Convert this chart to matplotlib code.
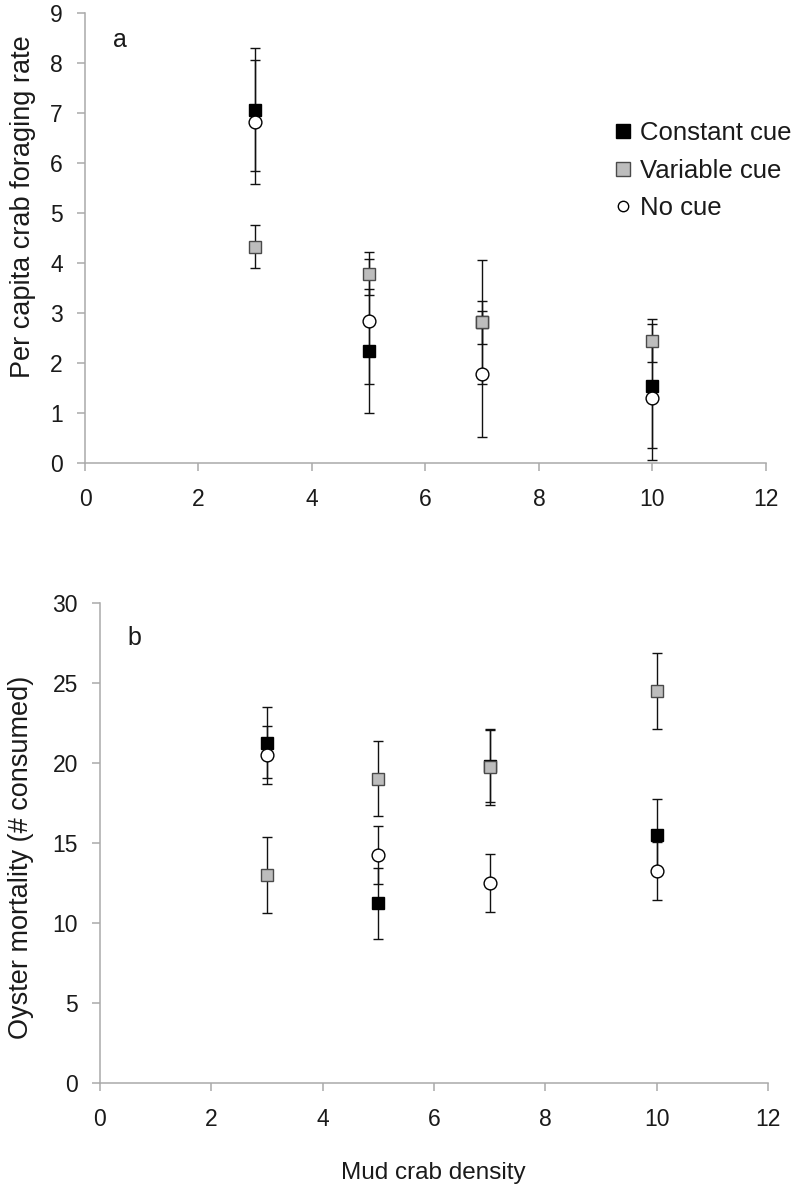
import matplotlib
matplotlib.use("Agg")
import matplotlib.pyplot as plt
from matplotlib.lines import Line2D

plt.rcParams['font.family'] = ['Liberation Sans', 'DejaVu Sans']

# mud crab density treatments
density = [3, 5, 7, 10]

# panel a: per capita foraging rate
rate_constant = [7.07, 2.23, 2.81, 1.54]
rate_constant_se = [1.24, 1.24, 1.24, 1.24]
rate_variable = [4.32, 3.78, 2.81, 2.44]
rate_variable_se = [0.43, 0.43, 0.43, 0.43]
rate_nocue = [6.82, 2.83, 1.77, 1.30]
rate_nocue_se = [1.25, 1.25, 1.26, 1.24]

# panel b: oyster mortality (# consumed)
mort_constant = [21.25, 11.21, 19.8, 15.48]
mort_constant_se = [2.23, 2.23, 2.23, 2.25]
mort_variable = [12.98, 19.0, 19.73, 24.5]
mort_variable_se = [2.36, 2.36, 2.36, 2.37]
mort_nocue = [20.5, 14.23, 12.48, 13.23]
mort_nocue_se = [1.8, 1.83, 1.82, 1.83]

labels = ["Constant cue", "Variable cue", "No cue"]
styles = [
    dict(marker='s', mfc='black', mec='black'),
    dict(marker='s', mfc='#bdbdbd', mec='#4a4a4a'),
    dict(marker='o', mfc='white', mec='black'),
]

SPINE = '#aaaaaa'
TXT = '#1a1a1a'


def draw_panel(ax, series, yticks, ylabel, letter, letter_y):
    # error bars first so every marker sits above every bar
    for vals, se in series:
        ax.errorbar(density, vals, yerr=se, fmt='none', ecolor='#111111',
                    elinewidth=1.0, capsize=3.3, capthick=1.0, zorder=2)
    for i, (vals, se) in enumerate(series):
        ax.plot(density, vals, linestyle='none', markersize=9.2,
                markeredgewidth=1.0, zorder=3 + i, **styles[i])

    ax.set_xlim(0, 12)
    ax.set_ylim(yticks[0], yticks[-1])
    ax.set_xticks(range(0, 13, 2))
    ax.set_yticks(yticks)
    for s in ['top', 'right']:
        ax.spines[s].set_visible(False)
    for s in ['left', 'bottom']:
        ax.spines[s].set_color(SPINE)
        ax.spines[s].set_linewidth(1.1)
    ax.tick_params(axis='both', colors=SPINE, labelcolor=TXT, length=6,
                   width=1.1, labelsize=16.5)
    ax.tick_params(axis='x', pad=12)
    ax.tick_params(axis='y', pad=10)
    ax.set_ylabel(ylabel, fontsize=19.5, color=TXT, va='center')
    ax.text(0.051, letter_y, letter, transform=ax.transAxes, fontsize=18,
            color=TXT, ha='center', va='center')


fig = plt.figure(figsize=(8, 11.94), dpi=100)
ax1 = fig.add_axes([85 / 800, 1 - 463 / 1194, 681 / 800, 450 / 1194])
ax2 = fig.add_axes([100 / 800, 1 - 1082.7 / 1194, 668 / 800, 480 / 1194])

draw_panel(ax1, [(rate_constant, rate_constant_se),
                 (rate_variable, rate_variable_se),
                 (rate_nocue, rate_nocue_se)],
           list(range(0, 10)), "Per capita crab foraging rate", "a", 0.94)
draw_panel(ax2, [(mort_constant, mort_constant_se),
                 (mort_variable, mort_variable_se),
                 (mort_nocue, mort_nocue_se)],
           list(range(0, 31, 5)), "Oyster mortality (# consumed)", "b", 0.926)

ax1.yaxis.set_label_coords((23 - 85) / 681, (463 - 207) / 450)
ax2.yaxis.set_label_coords((21 - 100) / 668, (1082.7 - 857) / 480)
ax2.set_xlabel("Mud crab density", fontsize=17.5, color=TXT, va='center')
ax2.xaxis.set_label_coords((433 - 100) / 668, (1082.7 - 1173) / 480)

handles = [
    Line2D([], [], linestyle='none', marker='s', markersize=10, mfc='black', mec='black'),
    Line2D([], [], linestyle='none', marker='s', markersize=10, mfc='#bdbdbd', mec='#4a4a4a'),
    Line2D([], [], linestyle='none', marker='o', markersize=7.5, mfc='white', mec='black'),
]
ax1.legend(handles, labels, loc='upper left', bbox_to_anchor=(614 / 800, 1 - 121 / 1194),
           bbox_transform=fig.transFigure, frameon=False, fontsize=18.5,
           handlelength=0.7, handletextpad=0.3, labelspacing=0.53,
           borderpad=0, borderaxespad=0, labelcolor=TXT)

fig.savefig("out.png", dpi=100, facecolor='white')
